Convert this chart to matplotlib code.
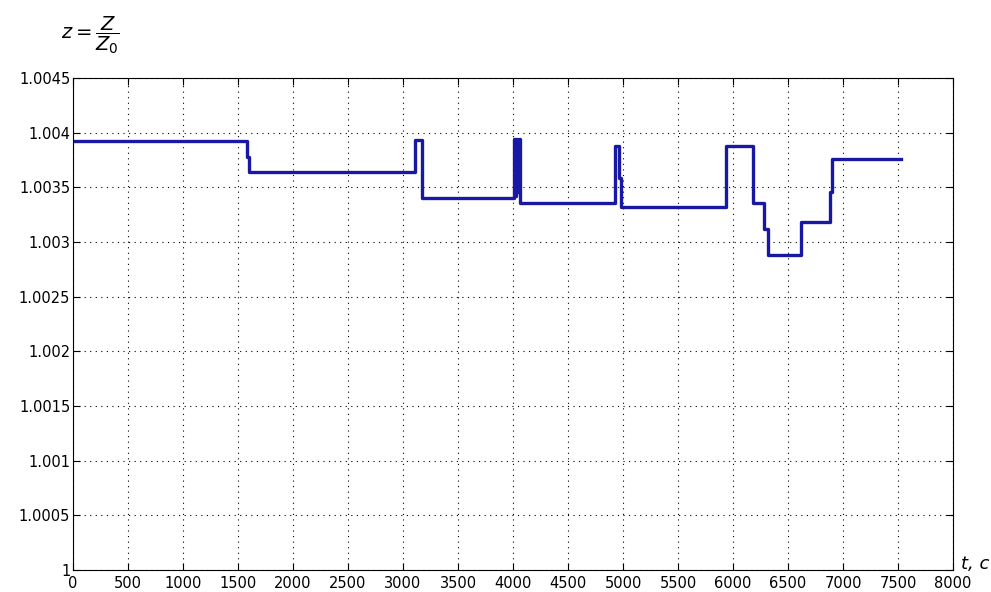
import matplotlib.pyplot as plt

# step times (s) and relative impedance values
t = [0, 1585, 1598, 3110, 3170, 4010, 4020, 4030, 4040, 4050, 4062,
     4930, 4962, 4978, 5940, 6180, 6285, 6315, 6620, 6880, 6900, 7530]
z = [1.00392, 1.00378, 1.00364, 1.00393, 1.00340, 1.00394, 1.00342, 1.00394,
     1.00346, 1.00394, 1.00336, 1.00388, 1.00359, 1.00332, 1.00388, 1.00336,
     1.00312, 1.00288, 1.00318, 1.00346, 1.00376, 1.00376]

xticks = list(range(0, 8001, 500))
yticks = [1, 1.0005, 1.001, 1.0015, 1.002, 1.0025, 1.003, 1.0035, 1.004, 1.0045]
ylabels = ['1', '1.0005', '1.001', '1.0015', '1.002', '1.0025', '1.003',
           '1.0035', '1.004', '1.0045']

plt.rcParams['font.family'] = ['DejaVu Sans']
plt.rcParams['mathtext.fontset'] = 'dejavusans'

fig = plt.figure(figsize=(9.91, 5.92), dpi=100)
ax = fig.add_axes([0.0737, 0.0372, 0.888, 0.831])

ax.plot(t, z, drawstyle='steps-post', color='#1818a4', linewidth=2.4)

ax.set_xlim(0, 8000)
ax.set_ylim(1, 1.0045)
ax.set_xticks(xticks)
ax.set_xticklabels([str(v) for v in xticks], fontsize=10.5)
ax.set_yticks(yticks)
ax.set_yticklabels(ylabels, fontsize=10.5)
ax.tick_params(direction='in', top=True, right=True, length=5)
ax.tick_params(axis='x', pad=4)
ax.tick_params(axis='y', pad=2)
ax.grid(True, linestyle=(0, (1, 4)), color='black', linewidth=0.8)
for s in ax.spines.values():
    s.set_linewidth(0.8)

fig.text(0.091, 0.94, r'$z=\dfrac{Z}{Z_0}$', fontsize=14, ha='center', va='center')
fig.text(0.970, 0.048, 't, с', fontsize=13, style='italic', ha='left', va='center')

fig.savefig('out.png', dpi=100)
